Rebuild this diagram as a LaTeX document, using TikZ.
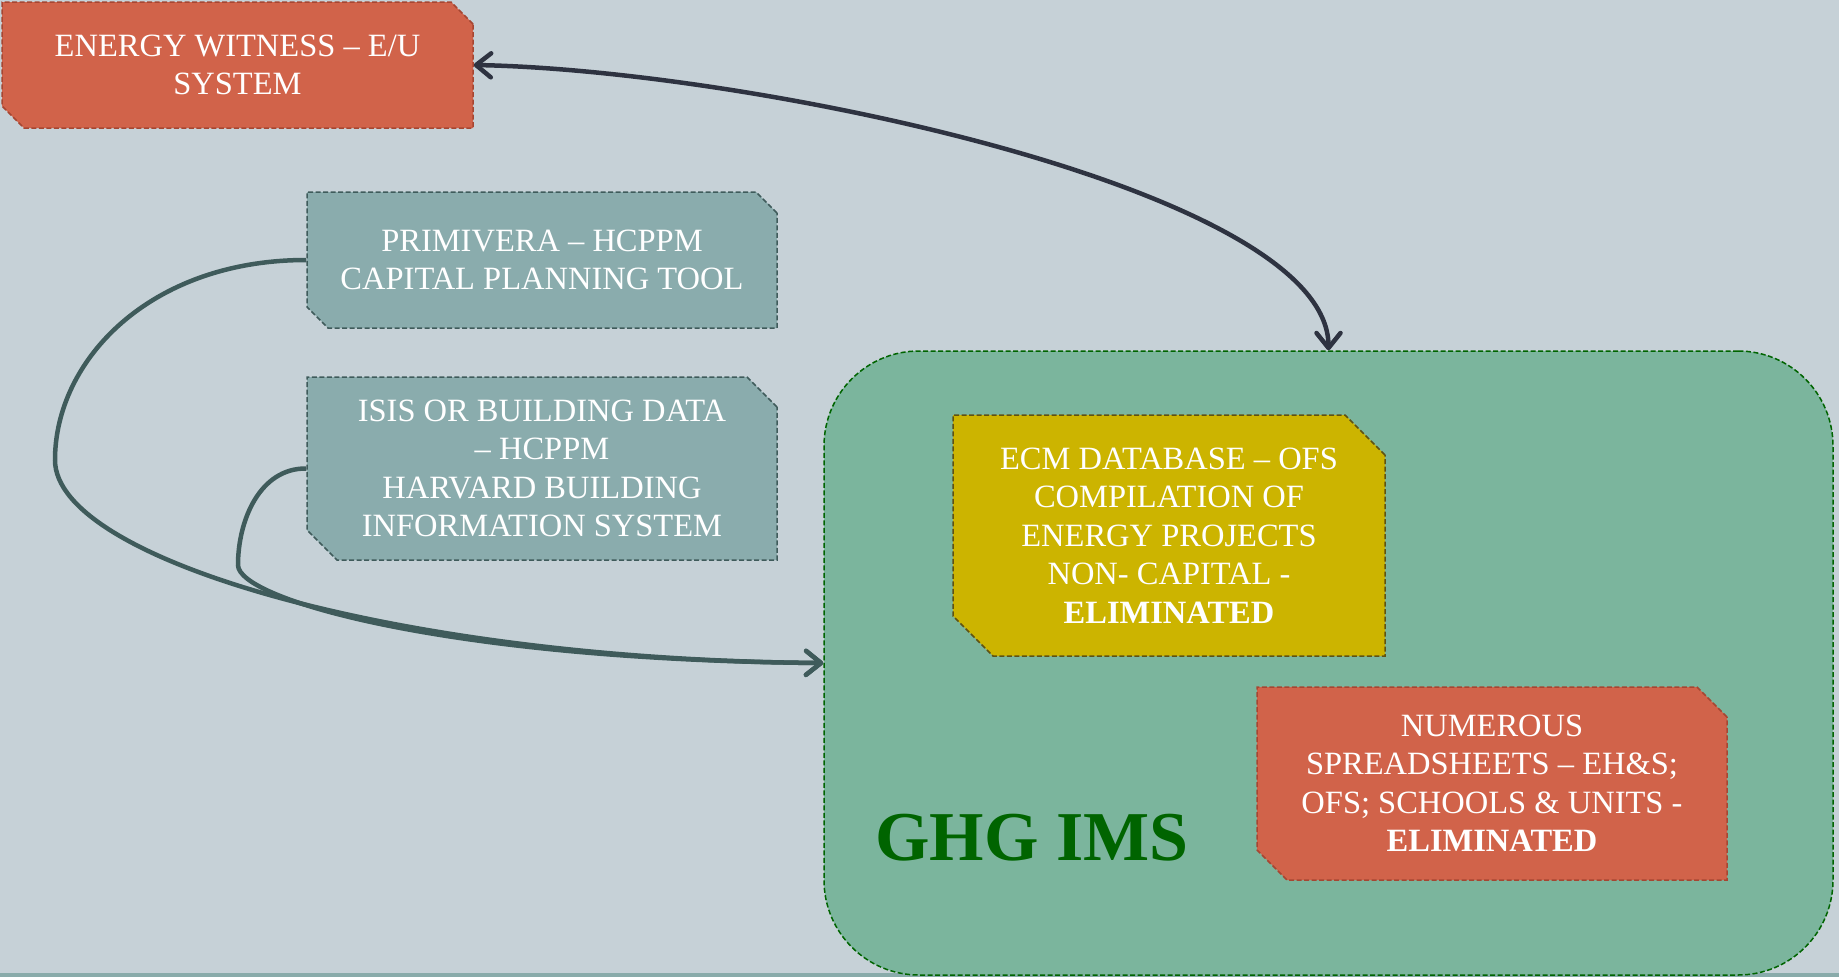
\documentclass[tikz,border=0pt]{standalone}
\usepackage{fontspec}
\setmainfont{Liberation Serif}
\usetikzlibrary{shapes.misc,arrows.meta}
\definecolor{slidebg}{HTML}{C6D1D7}
\definecolor{slidestrip}{HTML}{89ABAA}
\definecolor{tealfill}{HTML}{8AACAD}
\definecolor{tealline}{HTML}{3F5B5B}
\definecolor{redfill}{HTML}{D1634A}
\definecolor{redline}{HTML}{A64632}
\definecolor{goldfill}{HTML}{CCB400}
\definecolor{goldline}{HTML}{5F5212}
\definecolor{imsfill}{HTML}{7BB59D}
\definecolor{imsline}{HTML}{006400}
\definecolor{navyline}{HTML}{2E3341}

\begin{document}
\begin{tikzpicture}[x=1pt,y=-1pt,
  srcbox/.style={chamfered rectangle, chamfered rectangle corners={north east,south west},
    draw, line width=1.5pt, dash pattern=on 5pt off 2.5pt, text=white, align=center,
    inner sep=0pt, font=\fontsize{32.5}{38.5}\selectfont},
  flowarrow/.style={line width=4.5pt, tealline, -{Straight Barb[length=15pt,width=24pt,round]}},
  linkarrow/.style={line width=4.5pt, navyline, {Straight Barb[length=15pt,width=24pt,round]}-{Straight Barb[length=15pt,width=24pt,round]}}]
\useasboundingbox (0,0) rectangle (1839,977);
\fill[slidebg] (0,0) rectangle (1839,977);
\fill[slidestrip] (0,973) rectangle (1839,977);

\node[draw=imsline, fill=imsfill, line width=1.5pt, dash pattern=on 5pt off 2.5pt,
  rounded corners=95pt, minimum width=1009pt, minimum height=624pt] (ghg) at (1328.5,663) {};
\node[text=imsline, font=\fontsize{70}{78}\selectfont\bfseries] (ghglabel) at (1032,838) {GHG IMS};

\node[srcbox, fill=redfill, draw=redline, minimum width=471pt, minimum height=126pt,
  chamfered rectangle sep=11pt] (energy) at (237.5,65) {ENERGY WITNESS – E/U\\SYSTEM};
\node[srcbox, fill=tealfill, draw=tealline, minimum width=470pt, minimum height=136pt,
  chamfered rectangle sep=10.5pt] (prim) at (542,260) {PRIMIVERA – HCPPM\\CAPITAL PLANNING TOOL};
\node[srcbox, fill=tealfill, draw=tealline, minimum width=470pt, minimum height=183pt,
  chamfered rectangle sep=15pt] (isis) at (542,468.5) {ISIS OR BUILDING DATA\\– HCPPM\\HARVARD BUILDING\\INFORMATION SYSTEM};
\node[srcbox, fill=goldfill, draw=goldline, minimum width=432pt, minimum height=241pt,
  chamfered rectangle sep=20pt] (ecm) at (1169,535.5) {ECM DATABASE – OFS\\COMPILATION OF\\ENERGY PROJECTS\\NON- CAPITAL -\\\textbf{ELIMINATED}};
\node[srcbox, fill=redfill, draw=redline, minimum width=470pt, minimum height=193pt,
  chamfered rectangle sep=15pt] (sheets) at (1492,783.5) {NUMEROUS\\SPREADSHEETS – EH\&S;\\OFS; SCHOOLS \& UNITS -\\\textbf{ELIMINATED}};

\path[draw,flowarrow] (prim.west) .. controls (150,260) and (55,360) .. (55,460)
  .. controls (55,560) and (400,660) .. (ghg.west);
\path[draw,flowarrow] (isis.west) .. controls (260,468) and (238,520) .. (238,565)
  .. controls (238,600) and (450,660) .. (ghg.west);
\path[draw,linkarrow] (energy.east) .. controls (750,70) and (1328.5,190) .. (ghg.north);
\end{tikzpicture}
\end{document}
